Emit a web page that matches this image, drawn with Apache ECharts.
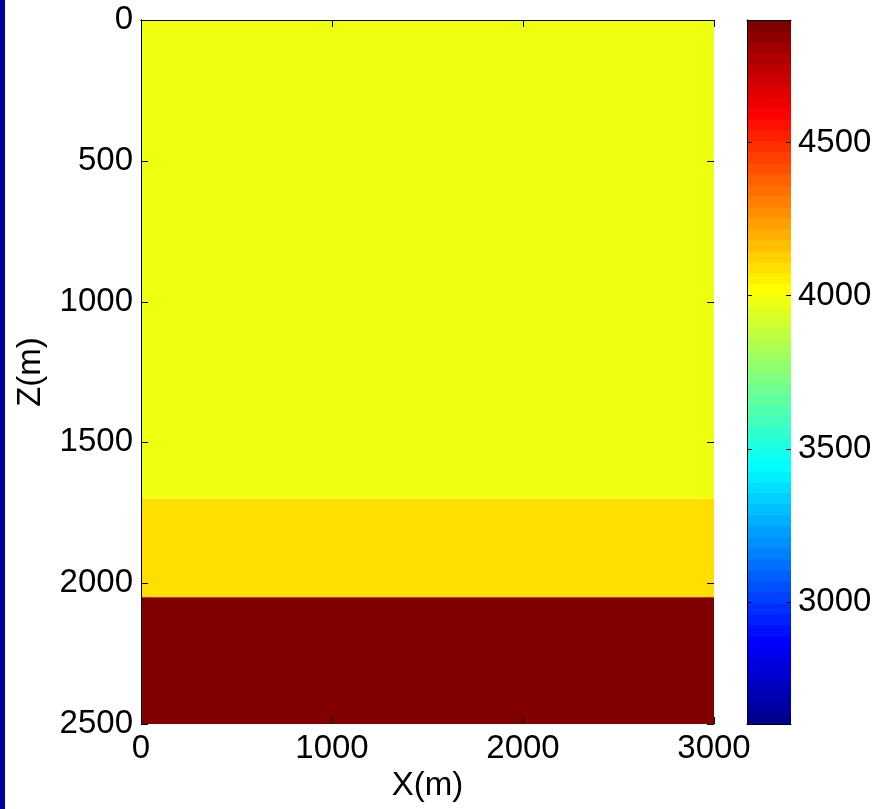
<!DOCTYPE html>
<html><head><meta charset="utf-8">
<script src="https://cdn.jsdelivr.net/npm/echarts@6/dist/echarts.min.js"></script>
<style>html,body{margin:0;padding:0;background:#fff}#c{width:880px;height:809px}</style>
</head><body><div id="c"></div>
<script>
// ---- data ----
const xRange = [0, 3000];
const zRange = [0, 2500];
const xTicks = [0, 1000, 2000, 3000];
const zTicks = [0, 500, 1000, 1500, 2000, 2500];
const layerTop = [0, 1700, 2050];
const layerBottom = [1700, 2050, 2500];
const layerVelocity = [4000, 4100, 4900];
const colorRange = [2600, 4900];
const colorbarTicks = [3000, 3500, 4000, 4500];
const nColors = 64;

// MATLAB jet(64) colormap
function jet(i) { // i: 0..63
  const k = i + 1;
  let r, g, b;
  if (k <= 24) r = 0; else if (k <= 40) r = (k - 24) / 16; else if (k <= 55) r = 1; else r = (72 - k) / 16;
  if (k <= 8) g = 0; else if (k <= 24) g = (k - 8) / 16; else if (k <= 40) g = 1; else if (k <= 55) g = (56 - k) / 16; else g = 0;
  if (k <= 8) b = (k + 8) / 16; else if (k <= 24) b = 1; else if (k <= 39) b = (40 - k) / 16; else b = 0;
  const f = v => Math.round(v * 255);
  return 'rgb(' + f(r) + ',' + f(g) + ',' + f(b) + ')';
}
function colorOf(v) {
  let idx = Math.floor((v - colorRange[0]) / (colorRange[1] - colorRange[0]) * nColors);
  idx = Math.max(0, Math.min(nColors - 1, idx));
  return jet(idx);
}

const layerData = layerTop.map((t, i) => [xRange[0], xRange[1], t, layerBottom[i], layerVelocity[i]]);
const step = (colorRange[1] - colorRange[0]) / nColors;
const cbData = [];
for (let i = 0; i < nColors; i++) cbData.push([i, colorRange[0] + i * step, colorRange[0] + (i + 1) * step]);

const FONT = "'Liberation Sans', Arial, sans-serif";
const FS = 33;
const plain = v => String(v);
const lineBlack = { show: true, lineStyle: { color: '#000', width: 1 } };
const noTick = { show: false };
const lbl = (extra) => Object.assign({ color: '#000', fontSize: FS, fontFamily: FONT, formatter: plain }, extra || {});
const tickStyle = { stroke: '#000', lineWidth: 1 };
function snap(v) { return Math.round(v) + 0.5; }
function tickLine(x1, y1, x2, y2) {
  return { type: 'line', shape: { x1: x1, y1: y1, x2: x2, y2: y2 }, style: tickStyle };
}

const chart = echarts.init(document.getElementById('c'), null, { renderer: 'canvas' });
chart.setOption({
  backgroundColor: '#fff',
  animation: false,
  graphic: [{ type: 'rect', left: 0, top: 0, shape: { x: 0, y: 0, width: 5, height: 809 }, style: { fill: '#00009a' } }],
  grid: [
    { left: 141, right: 166, top: 20, bottom: 85, containLabel: false },
    { left: 747, right: 89, top: 20, bottom: 85, containLabel: false }
  ],
  xAxis: [
    { gridIndex: 0, type: 'value', min: xRange[0], max: xRange[1], interval: 1000, position: 'bottom', z: 10,
      axisLine: lineBlack, axisTick: noTick, splitLine: { show: false },
      axisLabel: lbl({ margin: 8, customValues: xTicks }),
      name: 'X(m)', nameLocation: 'middle', nameGap: 44, nameTextStyle: { color: '#000', fontSize: FS, fontFamily: FONT } },
    { gridIndex: 0, type: 'value', min: xRange[0], max: xRange[1], interval: 1000, position: 'top', z: 10,
      axisLine: lineBlack, axisTick: noTick, splitLine: { show: false }, axisLabel: { show: false } },
    { gridIndex: 1, type: 'value', min: 0, max: 1, position: 'bottom', z: 10,
      axisLine: lineBlack, axisTick: noTick, splitLine: { show: false }, axisLabel: { show: false } },
    { gridIndex: 1, type: 'value', min: 0, max: 1, position: 'top', z: 10,
      axisLine: lineBlack, axisTick: noTick, splitLine: { show: false }, axisLabel: { show: false } }
  ],
  yAxis: [
    { gridIndex: 0, type: 'value', inverse: true, min: zRange[0], max: zRange[1], interval: 500, position: 'left', z: 10,
      axisLine: lineBlack, axisTick: noTick, splitLine: { show: false },
      axisLabel: lbl({ margin: 8, customValues: zTicks }),
      name: 'Z(m)', nameLocation: 'middle', nameGap: 94, nameRotate: 90, nameTextStyle: { color: '#000', fontSize: FS, fontFamily: FONT } },
    { gridIndex: 0, type: 'value', inverse: true, min: zRange[0], max: zRange[1], interval: 500, position: 'right', z: 10,
      axisLine: lineBlack, axisTick: noTick, splitLine: { show: false }, axisLabel: { show: false } },
    { gridIndex: 1, type: 'value', min: colorRange[0], max: colorRange[1], position: 'left', z: 10,
      axisLine: { show: true, lineStyle: { color: '#777', width: 1 } },
      axisTick: noTick, splitLine: { show: false }, axisLabel: { show: false } },
    { gridIndex: 1, type: 'value', min: colorRange[0], max: colorRange[1], position: 'right', z: 10,
      axisLine: lineBlack, axisTick: noTick, splitLine: { show: false },
      axisLabel: lbl({ margin: 7, customValues: colorbarTicks }) }
  ],
  series: [
    { type: 'custom', xAxisIndex: 0, yAxisIndex: 0, data: layerData, z: 0,
      renderItem: function (params, api) {
        const p0 = api.coord([api.value(0), api.value(2)]);
        const p1 = api.coord([api.value(1), api.value(3)]);
        return { type: 'rect', shape: { x: p0[0], y: p0[1], width: p1[0] - p0[0], height: p1[1] - p0[1] },
          style: { fill: colorOf(api.value(4)) } };
      } },
    { type: 'custom', xAxisIndex: 2, yAxisIndex: 2, data: cbData, z: 0,
      renderItem: function (params, api) {
        const p0 = api.coord([0, api.value(2)]);
        const p1 = api.coord([1, api.value(1)]);
        return { type: 'rect', shape: { x: p0[0], y: p0[1], width: p1[0] - p0[0], height: p1[1] - p0[1] + 0.6 },
          style: { fill: jet(api.value(0)) } };
      } },
    // x ticks (inside, bottom and top)
    { type: 'custom', xAxisIndex: 0, yAxisIndex: 0, data: xTicks.map(v => [v]), z: 20, clip: false, silent: true,
      renderItem: function (params, api) {
        const pb = api.coord([api.value(0), zRange[1]]);
        const pt = api.coord([api.value(0), zRange[0]]);
        const x = snap(pb[0]);
        return { type: 'group', children: [tickLine(x, pb[1], x, pb[1] - 7), tickLine(x, pt[1], x, pt[1] + 7)] };
      } },
    // z ticks (inside, left and right)
    { type: 'custom', xAxisIndex: 0, yAxisIndex: 0, data: zTicks.map(v => [v]), z: 20, clip: false, silent: true,
      renderItem: function (params, api) {
        const pl = api.coord([xRange[0], api.value(0)]);
        const pr = api.coord([xRange[1], api.value(0)]);
        const y = snap(pl[1]);
        return { type: 'group', children: [tickLine(pl[0], y, pl[0] + 7, y), tickLine(pr[0], y, pr[0] - 7, y)] };
      } },
    // colorbar ticks (inside, both sides)
    { type: 'custom', xAxisIndex: 2, yAxisIndex: 2, data: colorbarTicks.map(v => [v]), z: 20, clip: false, silent: true,
      renderItem: function (params, api) {
        const pl = api.coord([0, api.value(0)]);
        const pr = api.coord([1, api.value(0)]);
        const y = snap(pl[1]);
        return { type: 'group', children: [tickLine(pl[0], y, pl[0] + 5, y), tickLine(pr[0], y, pr[0] - 5, y)] };
      } }
  ]
});
</script></body></html>
